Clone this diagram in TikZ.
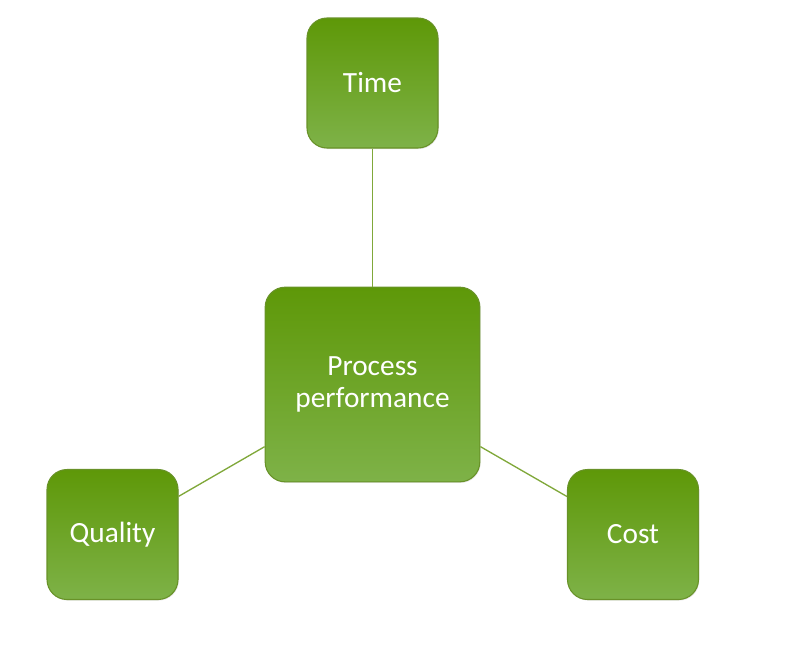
\documentclass[tikz,border=0pt]{standalone}
\usepackage{fontspec}
\setmainfont{Carlito}
\usetikzlibrary{shadows}

\definecolor{boxtop}{RGB}{94,152,8}
\definecolor{boxmid}{RGB}{104,160,30}
\definecolor{boxbot}{RGB}{126,178,72}
\definecolor{boxedge}{RGB}{104,146,40}
\definecolor{linkgreen}{RGB}{128,168,58}

\begin{document}
\begin{tikzpicture}[x=0.75pt,y=0.75pt,yscale=-1,xscale=1]
\tikzset{
  greenbox/.style={rectangle, rounded corners=15pt, top color=boxtop, middle color=boxmid, bottom color=boxbot,
    draw=boxedge, line width=0.8pt, text=white, align=center, inner sep=0pt,
    font=\fontsize{22}{24}\selectfont,
    drop shadow={opacity=0.2, shadow xshift=0.6pt, shadow yshift=-0.8pt}},
  smallbox/.style={greenbox, minimum width=98.25pt, minimum height=97.5pt},
  link/.style={draw=linkgreen, line width=1pt}
}
\useasboundingbox (0,0) rectangle (802,647);

% Text Node
\node[greenbox, minimum width=161pt, minimum height=146pt] (proc) at (372.5,384.5) {Process\\performance};
% Text Node
\node[smallbox] (time) at (372.5,83) {Time};
% Text Node
\node[smallbox] (quality) at (112.5,534.5) {Quality};
% Text Node
\node[smallbox] (cost) at (633,534.5) {Cost};

%Straight Lines
\draw[link] (proc) -- (time);
\draw[link] (proc) -- (quality);
\draw[link] (proc) -- (cost);

\end{tikzpicture}
\end{document}
